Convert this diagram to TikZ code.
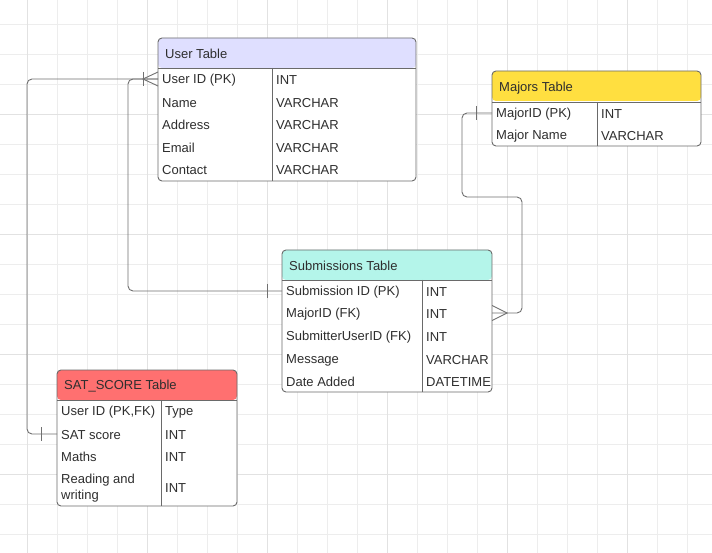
\documentclass[tikz,border=0pt]{standalone}
\usepackage{fontspec}
\setmainfont{Liberation Sans}
\usetikzlibrary{calc}

\definecolor{gridminor}{HTML}{EDEDED}
\definecolor{gridmajor}{HTML}{E2E2E2}
\definecolor{edge}{HTML}{6A6A6A}
\definecolor{linec}{HTML}{707070}
\definecolor{ink}{HTML}{2E2E2E}
\definecolor{hdUser}{HTML}{DFDFFF}
\definecolor{hdMajor}{HTML}{FFDF40}
\definecolor{hdSub}{HTML}{B4F5EA}
\definecolor{hdSat}{HTML}{FF7070}

\newcommand\cellfont{\fontsize{13}{16}\selectfont}

\tikzset{
  tbl/.style={draw=edge, fill=white, line width=0.9pt, rounded corners=4pt,
    anchor=north west, inner sep=0pt, outer sep=0pt},
  hdr/.style={path picture={\fill[#1] (path picture bounding box.north west)
    rectangle ([yshift=-30pt]path picture bounding box.north east);}},
  rule/.style={draw=edge, line width=0.9pt},
  cell/.style={anchor=west, inner sep=0pt, text=ink, font=\cellfont, yshift=-1.2pt},
  conn/.style={draw=linec, line width=0.9pt, rounded corners=5pt},
  crowmark/.style={draw=linec, line width=0.9pt},
}

\begin{document}
\begin{tikzpicture}[x=1pt, y=-1pt]
  \useasboundingbox (0,0) rectangle (712,553);
  \fill[white] (0,0) rectangle (712,553);

  % background grid
  \foreach \gx in {27,57,...,687} \draw[gridminor, line width=0.8pt] (\gx,0) -- (\gx,553);
  \foreach \gy in {24,54,...,534} \draw[gridminor, line width=0.8pt] (0,\gy) -- (712,\gy);
  \foreach \gx in {27,147,...,627} \draw[gridmajor, line width=0.8pt] (\gx,0) -- (\gx,553);
  \foreach \gy in {114,234,...,474} \draw[gridmajor, line width=0.8pt] (0,\gy) -- (712,\gy);

  % ---------- User Table ----------
  \node[tbl, hdr=hdUser, minimum width=258pt, minimum height=143pt] (user) at (158,38) {};
  \draw[rule] ([yshift=-30pt]user.north west) -- ([yshift=-30pt]user.north east);
  \draw[rule] ([xshift=114pt,yshift=-30pt]user.north west) -- ([xshift=114pt]user.south west);
  \node[cell] (userT) at (165,53) {User Table};
  \node[cell] (uid) at (162,79) {User ID (PK)};   \node[cell] (uidT) at (276,79) {INT};
  \node[cell] (uname) at (162,102) {Name};        \node[cell] (unameT) at (276,102) {VARCHAR};
  \node[cell] (uaddr) at (162,124) {Address};     \node[cell] (uaddrT) at (276,124) {VARCHAR};
  \node[cell] (umail) at (162,147) {Email};       \node[cell] (umailT) at (276,147) {VARCHAR};
  \node[cell] (ucont) at (162,169) {Contact};     \node[cell] (ucontT) at (276,169) {VARCHAR};

  % ---------- Majors Table ----------
  \node[tbl, hdr=hdMajor, minimum width=209pt, minimum height=75pt] (major) at (492,71) {};
  \draw[rule] ([yshift=-31pt]major.north west) -- ([yshift=-31pt]major.north east);
  \draw[rule] ([xshift=105pt,yshift=-31pt]major.north west) -- ([xshift=105pt]major.south west);
  \node[cell] (majorT) at (499,87) {Majors Table};
  \node[cell] (mid) at (496,113) {MajorID (PK)};  \node[cell] (midT) at (601,113) {INT};
  \node[cell] (mname) at (496,135) {Major Name};  \node[cell] (mnameT) at (601,135) {VARCHAR};

  % ---------- Submissions Table ----------
  \node[tbl, hdr=hdSub, minimum width=210pt, minimum height=142pt] (sub) at (282,250) {};
  \draw[rule] ([yshift=-30pt]sub.north west) -- ([yshift=-30pt]sub.north east);
  \draw[rule] ([xshift=140pt,yshift=-30pt]sub.north west) -- ([xshift=140pt]sub.south west);
  \node[cell] (subT) at (289,265) {Submissions Table};
  \node[cell] (sid) at (286,291) {Submission ID (PK)};      \node[cell] (sidT) at (426,291) {INT};
  \node[cell] (smid) at (286,313) {MajorID (FK)};           \node[cell] (smidT) at (426,313) {INT};
  \node[cell] (suid) at (286,336) {SubmitterUserID (FK)};   \node[cell] (suidT) at (426,336) {INT};
  \node[cell] (smsg) at (286,359) {Message};                \node[cell] (smsgT) at (426,359) {VARCHAR};
  \node[cell] (sdate) at (286,381) {Date Added};            \node[cell] (sdateT) at (426,381) {DATETIME};

  % ---------- SAT_SCORE Table ----------
  \node[tbl, hdr=hdSat, minimum width=180pt, minimum height=136pt] (sat) at (57,370) {};
  \draw[rule] ([yshift=-30pt]sat.north west) -- ([yshift=-30pt]sat.north east);
  \draw[rule] ([xshift=104pt,yshift=-30pt]sat.north west) -- ([xshift=104pt]sat.south west);
  \node[cell] (satT) at (64,385) {SAT\_SCORE Table};
  \node[cell] (tuid) at (61,411) {User ID (PK,FK)};   \node[cell] (tuidT) at (165,411) {Type};
  \node[cell] (tsat) at (61,434) {SAT score};          \node[cell] (tsatT) at (165,434) {INT};
  \node[cell] (tmath) at (61,456) {Maths};             \node[cell] (tmathT) at (165,456) {INT};
  \node[cell, align=left] (tread) at (61,487) {Reading and\\writing};
  \node[cell] (treadT) at (165,487) {INT};

  % ---------- relationships (attached at the row's mid-line) ----------
  \coordinate (uEnd) at ([yshift=1.2pt]user.west |- uid);
  \coordinate (sEnd) at ([yshift=1.2pt]sub.west |- sid);
  \coordinate (tEnd) at ([yshift=1.2pt]sat.west |- tsat);
  \coordinate (mEnd) at ([yshift=1.2pt]major.west |- mid);
  \coordinate (smEnd) at ([yshift=1.2pt]sub.east |- smid);

  % User -> Submissions
  \draw[conn] (uEnd) -- ([xshift=-30pt]uEnd) |- (sEnd);
  % User -> SAT_SCORE
  \draw[conn] (uEnd) -- ([xshift=-131pt]uEnd) |- (tEnd);
  % Majors -> Submissions
  \draw[conn] (mEnd) -- ([xshift=-30pt]mEnd) -- ($(mEnd)+(-30,84)$)
     -- ($(mEnd)+(30,84)$) |- (smEnd);

  % crow's foot (many) on User Table
  \draw[crowmark] ([shift={(0,-7)}]uEnd) -- ([xshift=-15pt]uEnd) -- ([shift={(0,7)}]uEnd);
  \draw[crowmark] ([shift={(-15,-7)}]uEnd) -- ([shift={(-15,7)}]uEnd);
  % single ticks
  \draw[crowmark] ([shift={(-15,-7)}]sEnd) -- ([shift={(-15,7)}]sEnd);
  \draw[crowmark] ([shift={(-16,-7)}]tEnd) -- ([shift={(-16,7)}]tEnd);
  \draw[crowmark] ([shift={(-16,-7)}]mEnd) -- ([shift={(-16,7)}]mEnd);
  % crow's foot (many) on Submissions Table
  \draw[crowmark] ([shift={(0,-7.5)}]smEnd) -- ([xshift=15pt]smEnd) -- ([shift={(0,7.5)}]smEnd);
\end{tikzpicture}
\end{document}
